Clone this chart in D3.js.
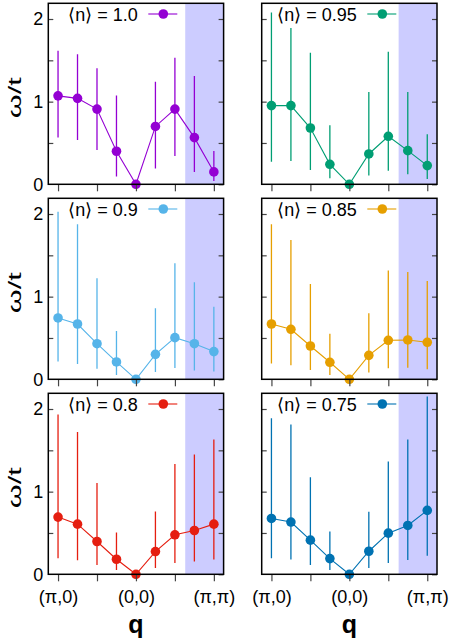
<!DOCTYPE html>
<html>
<head>
<meta charset="utf-8">
<script src="https://cdn.jsdelivr.net/npm/d3@7/dist/d3.min.js"></script>
<style>
  html, body { margin: 0; padding: 0; background: #fff; }
  svg { display: block; font-family: "Liberation Sans", Arial, sans-serif; }
</style>
</head>
<body>
<svg id="chart" width="450" height="638"></svg>
<script>
// ---- data ----
const qIndex = [0, 1, 2, 3, 4, 5, 6, 7, 8];
const qTickValues = [0, 2, 4, 6, 8];
const qTickLabels = { 0: "(π,0)", 4: "(0,0)", 8: "(π,π)" };
const yTickValues = [0, 0.5, 1, 1.5, 2];
const yLabelValues = [0, 1, 2];
const shadeStart = 6.53;

const fillings = ["1.0", "0.95", "0.9", "0.85", "0.8", "0.75"];

const omega_n100 = [1.07, 1.04, 0.91, 0.40, 0, 0.70, 0.91, 0.565, 0.15];
const errLo_n100 = [0.565, 0.536, 0.415, 0.093, 0, 0.19, 0.343, 0.149, 0.04];
const errHi_n100 = [1.617, 1.573, 1.403, 1.073, 0, 1.242, 1.532, 1.31, 0.403];

const omega_n095 = [0.952, 0.952, 0.681, 0.242, 0, 0.367, 0.581, 0.407, 0.226];
const errLo_n095 = [0.274, 0.282, 0.173, 0.073, 0, 0.105, 0.165, 0.121, 0.065];
const errHi_n095 = [2.08, 1.89, 1.593, 0.714, 0, 1.117, 1.605, 1.117, 0.605];

const omega_n090 = [0.742, 0.669, 0.431, 0.21, 0, 0.302, 0.504, 0.431, 0.335];
const errLo_n090 = [0.214, 0.185, 0.129, 0.052, 0, 0.089, 0.137, 0.105, 0.093];
const errHi_n090 = [2.028, 1.875, 1.222, 0.585, 0, 0.859, 1.403, 1.173, 0.879];

const omega_n085 = [0.669, 0.605, 0.403, 0.206, 0, 0.29, 0.472, 0.476, 0.448];
const errLo_n085 = [0.19, 0.169, 0.113, 0.052, 0, 0.081, 0.133, 0.141, 0.121];
const errHi_n085 = [1.875, 1.685, 1.153, 0.552, 0, 0.798, 1.315, 1.298, 1.19];

const omega_n080 = [0.692, 0.607, 0.397, 0.182, 0, 0.275, 0.478, 0.53, 0.607];
const errLo_n080 = [0.194, 0.17, 0.113, 0.053, 0, 0.077, 0.138, 0.154, 0.178];
const errHi_n080 = [1.935, 1.721, 1.105, 0.506, 0, 0.761, 1.336, 1.449, 1.632];

const omega_n075 = [0.676, 0.632, 0.413, 0.19, 0, 0.279, 0.498, 0.591, 0.773];
const errLo_n075 = [0.194, 0.178, 0.113, 0.053, 0, 0.077, 0.138, 0.174, 0.223];
const errHi_n075 = [1.887, 1.814, 1.174, 0.518, 0, 0.757, 1.364, 1.632, 2.15];

// ---- styles ----
const seriesColors = ["#9400D3", "#009E73", "#56B4E9", "#E69F00", "#E51E10", "#0072B2"];

const series = [
  { label: fillings[0], v: omega_n100, lo: errLo_n100, hi: errHi_n100 },
  { label: fillings[1], v: omega_n095, lo: errLo_n095, hi: errHi_n095 },
  { label: fillings[2], v: omega_n090, lo: errLo_n090, hi: errHi_n090 },
  { label: fillings[3], v: omega_n085, lo: errLo_n085, hi: errHi_n085 },
  { label: fillings[4], v: omega_n080, lo: errLo_n080, hi: errHi_n080 },
  { label: fillings[5], v: omega_n075, lo: errLo_n075, hi: errHi_n075 }
];

// ---- layout ----
const colLeft = [48.3, 261.7];
const panelW = 175.3;
const rowTop = [3.3, 198.3, 393.3];
const panelH = 181;
const legendTextEnd = [89.5, 95];
const legendMarker = [115, 120.6];
const baseFont = "'Liberation Sans', Arial, sans-serif";

const svg = d3.select("#chart");

series.forEach((s, i) => {
  const col = i % 2, row = Math.floor(i / 2);
  const color = seriesColors[i];
  const g = svg.append("g").attr("transform", `translate(${colLeft[col]},${rowTop[row]})`);

  const x = d3.scaleLinear().domain([-0.5, 8.5]).range([0, panelW]);
  const y = d3.scaleLinear().domain([0, 2.19]).range([panelH, 0]);

  const clipId = "clip" + i;
  g.append("clipPath").attr("id", clipId)
    .append("rect").attr("x", 0).attr("y", 0).attr("width", panelW).attr("height", panelH);

  // shaded region
  g.append("rect")
    .attr("x", x(shadeStart)).attr("y", 0)
    .attr("width", x(8.5) - x(shadeStart)).attr("height", panelH)
    .attr("fill", "#ccccff");

  const data = qIndex.map((q, k) => ({ q, v: s.v[k], lo: s.lo[k], hi: s.hi[k] }));

  const plot = g.append("g").attr("clip-path", `url(#${clipId})`);

  // error bars
  plot.selectAll("line.err").data(data.filter(d => d.hi > d.lo)).enter()
    .append("line").attr("class", "err")
    .attr("x1", d => x(d.q)).attr("x2", d => x(d.q))
    .attr("y1", d => y(d.lo)).attr("y2", d => y(d.hi))
    .attr("stroke", color).attr("stroke-width", 1.3);

  // line
  plot.append("path").datum(data)
    .attr("d", d3.line().x(d => x(d.q)).y(d => y(d.v)))
    .attr("fill", "none").attr("stroke", color).attr("stroke-width", 1.1);

  // points
  g.selectAll("circle.pt").data(data).enter()
    .append("circle").attr("class", "pt")
    .attr("cx", d => x(d.q)).attr("cy", d => y(d.v)).attr("r", 4.8)
    .attr("fill", color);

  // axes
  const yAxisL = d3.axisLeft(y).tickValues(yTickValues).tickSize(-5).tickPadding(5)
    .tickFormat(d => (col === 0 && yLabelValues.includes(d)) ? String(d) : "");
  const gl = g.append("g").call(yAxisL);
  const yAxisR = d3.axisRight(y).tickValues(yTickValues).tickSize(-5).tickFormat("");
  const gr = g.append("g").attr("transform", `translate(${panelW},0)`).call(yAxisR);
  const xAxis = d3.axisBottom(x).tickValues(qTickValues).tickSize(7).tickPadding(9)
    .tickFormat(d => row === 2 ? (qTickLabels[d] || "") : "");
  const gb = g.append("g").attr("transform", `translate(0,${panelH})`).call(xAxis);

  [gl, gr, gb].forEach(a => {
    a.select(".domain").remove();
    a.selectAll(".tick line").attr("stroke", "#444").attr("stroke-width", 1.2);
    a.selectAll(".tick text").attr("fill", "#000").attr("font-size", 18)
      .attr("font-family", baseFont);
  });
  gl.selectAll(".tick").filter(d => d === 0).select("line").remove();

  // frame
  g.append("rect").attr("x", 0).attr("y", 0).attr("width", panelW).attr("height", panelH)
    .attr("fill", "none").attr("stroke", "#000").attr("stroke-width", 1.5);

  // legend
  const ly = 10.7;
  g.append("text")
    .attr("x", legendTextEnd[col]).attr("y", ly + 6.6)
    .attr("text-anchor", "end").attr("font-size", 18).attr("fill", "#000")
    .attr("font-family", baseFont)
    .text(`⟨n⟩ = ${s.label}`);
  g.append("line")
    .attr("x1", legendMarker[col] - 15).attr("x2", legendMarker[col] + 14)
    .attr("y1", ly).attr("y2", ly)
    .attr("stroke", color).attr("stroke-width", 1.1);
  g.append("circle").attr("cx", legendMarker[col]).attr("cy", ly).attr("r", 4.8).attr("fill", color);

  // axis titles
  if (col === 0) {
    svg.append("text")
      .attr("transform", `translate(20.7,${rowTop[row] + 94.5}) rotate(-90)`)
      .attr("text-anchor", "middle").attr("font-size", 18).attr("fill", "#000")
      .attr("font-family", baseFont)
      .attr("textLength", 41).attr("lengthAdjust", "spacingAndGlyphs")
      .text("ω/t");
  }
  if (row === 2) {
    svg.append("text")
      .attr("x", colLeft[col] + panelW / 2).attr("y", 632.5)
      .attr("text-anchor", "middle").attr("font-size", 25).attr("font-weight", "bold")
      .attr("font-family", baseFont)
      .attr("fill", "#000").text("q");
  }
});
</script>
</body>
</html>
